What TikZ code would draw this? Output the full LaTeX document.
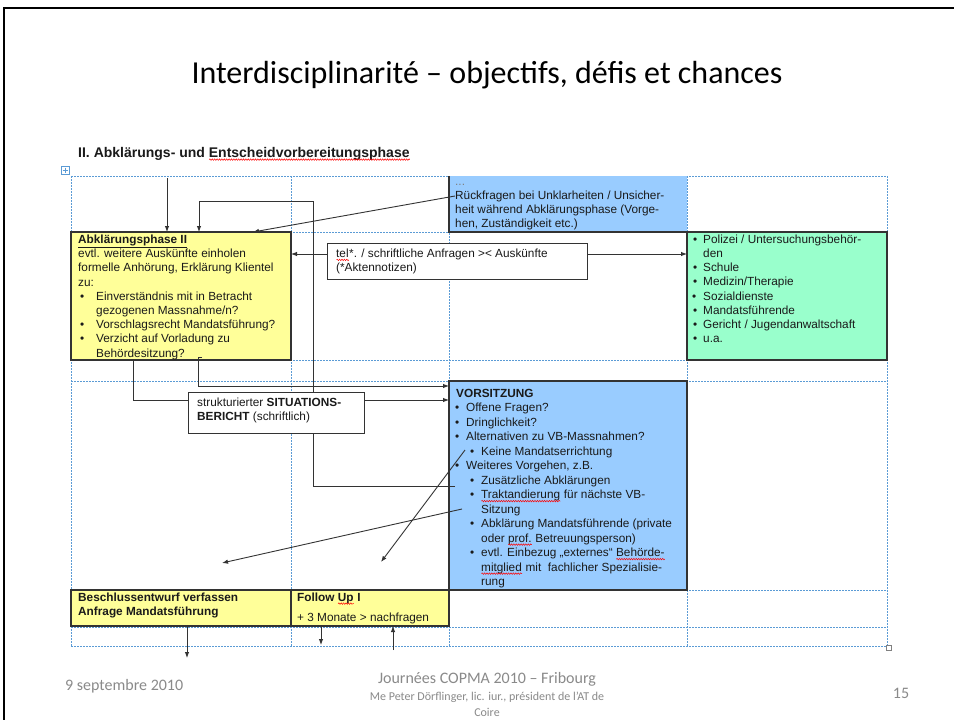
\documentclass[tikz,border=0pt]{standalone}
\usepackage{fontspec}
\setmainfont{Liberation Sans}
\newfontfamily\calibri{Carlito}
\usetikzlibrary{arrows.meta,decorations.pathmorphing}
\newsavebox\rwbox
\newcommand{\redwave}[1]{\sbox\rwbox{#1}\rlap{\usebox\rwbox}\raisebox{-2.6pt}{\tikz[baseline=0pt]\draw[red,line width=0.5pt,decorate,decoration={snake,amplitude=0.75pt,segment length=2.4pt}] (0pt,0pt) -- (\wd\rwbox,0pt);}}
\definecolor{ylw}{HTML}{FFFF99}
\definecolor{blu}{HTML}{99CCFF}
\definecolor{grn}{HTML}{99FFCC}
\definecolor{bord}{HTML}{333333}
\definecolor{gridc}{HTML}{5B9BD5}
\definecolor{txtc}{HTML}{1A1A1A}
\definecolor{footc}{HTML}{8A8A8A}
\tikzset{
  gridline/.style={gridc, line width=0.6pt, dash pattern=on 1.5pt off 1.5pt},
  boxnode/.style={anchor=north west, inner sep=0pt, outer sep=0pt, draw=bord, line width=1.1pt},
  boxedge/.style={bord, line width=1.1pt},
  txt/.style={anchor=base west, inner sep=0pt, text=txtc, font=\fontsize{11.8}{14}\selectfont},
  btxt/.style={txt, font=\bfseries\fontsize{11.8}{14}\selectfont},
  conn/.style={bord, line width=0.9pt},
  arr/.style={conn, -{Latex[length=6pt,width=4.5pt]}},
  foot/.style={inner sep=0pt, text=footc},
}
\begin{document}
\begin{tikzpicture}[x=1pt,y=-1pt]
\useasboundingbox (0,0) rectangle (954,720);
\fill[white] (0,0) rectangle (954,720);
% slide frame
\draw[black, line width=2.2pt] (4,730) -- (4,8) -- (960,8);
% title
\node[inner sep=0pt, font=\calibri\fontsize{32}{36}\selectfont] (title) at (487,75) {Interdisciplinarité – objectifs, défis et chances};
% heading
\node[txt, font=\bfseries\fontsize{14}{16}\selectfont] (head) at (78,157) {II. Abklärungs- und \redwave{Entscheidvorbereitungsphase}};
% table move icon
\draw[gridc, line width=0.5pt] (61,166) rectangle (69,174);
\draw[gridc, line width=0.6pt] (62.5,170) -- (67.5,170) (65,167.5) -- (65,172.5);
% grid
\foreach \gx in {71,291,449,687,887} \draw[gridline] (\gx,176) -- (\gx,646);
\foreach \gy in {176,232,360,381,590,627,646} \draw[gridline] (71,\gy) -- (887,\gy);
\draw[gray, fill=white, line width=0.5pt] (886,645) rectangle (891,650);
% boxes
\node[boxnode, fill=blu, draw=none, minimum width=238pt, minimum height=56pt] (rueck) at (449,176) {};
\draw[boxedge] (rueck.north west) -- (rueck.south west) -- (rueck.south east);
\node[boxnode, fill=ylw, minimum width=220pt, minimum height=128pt] (abk) at (71,232) {};
\node[boxnode, fill=grn, minimum width=200pt, minimum height=128pt] (gruen) at (687,232) {};
\node[boxnode, fill=blu, minimum width=238pt, minimum height=209pt] (vors) at (449,381) {};
\node[boxnode, fill=ylw, minimum width=220pt, minimum height=36pt] (besch) at (71,590) {};
\node[boxnode, fill=ylw, minimum width=158pt, minimum height=36pt] (follow) at (291,590) {};
% texts: Rueckfragen
\node[txt, text=gray] (r0) at (455,185) {...};
\node[txt] (r1) at (455,199.3) {Rückfragen bei Unklarheiten / Unsicher-};
\node[txt] (r2) at (455,213.5) {heit während Abklärungsphase (Vorge-};
\node[txt] (r3) at (455,227.7) {hen, Zuständigkeit etc.)};
% Abklaerungsphase II
\node[btxt] (a1) at (78,243.5) {\underline{Abklärungsphase II}};
\node[txt] (a2) at (78,257.7) {evtl. weitere Auskünfte einholen};
\node[txt] (a3) at (78,271.9) {formelle Anhörung, Erklärung Klientel};
\node[txt] (a4) at (78,286.1) {zu:};
\node[txt] (ab1) at (80,300.3) {•};
\node[txt] (a5) at (96,300.3) {Einverständnis mit in Betracht};
\node[txt] (a6) at (96,314.5) {gezogenen Massnahme/n?};
\node[txt] (ab2) at (80,328.7) {•};
\node[txt] (a7) at (96,328.7) {Vorschlagsrecht Mandatsführung?};
\node[txt] (ab3) at (80,342.9) {•};
\node[txt] (a8) at (96,342.9) {Verzicht auf Vorladung zu};
\node[txt] (a9) at (96,357.1) {Behördesitzung?};
% green box
\node[txt] (gb1) at (693,243.3) {•};
\node[txt] (g1) at (703,243.3) {Polizei / Untersuchungsbehör-};
\node[txt] (g1b) at (703,257.5) {den};
\node[txt] (gb2) at (693,271.7) {•};
\node[txt] (g2) at (703,271.7) {Schule};
\node[txt] (gb3) at (693,285.9) {•};
\node[txt] (g3) at (703,285.9) {Medizin/Therapie};
\node[txt] (gb4) at (692,300.1) {•};
\node[txt] (g4) at (703,300.1) {Sozialdienste};
\node[txt] (gb5) at (693,314.3) {•};
\node[txt] (g5) at (703,314.3) {Mandatsführende};
\node[txt] (gb6) at (693,328.5) {•};
\node[txt] (g6) at (703,328.5) {Gericht / Jugendanwaltschaft};
\node[txt] (gb7) at (693,342.7) {•};
\node[txt] (g7) at (703,342.7) {u.a.};
% VORSITZUNG
\node[btxt] (v0) at (456,397) {VORSITZUNG};
\node[txt] (vb1) at (455,411.5) {•};
\node[txt] (v1) at (466,411.5) {Offene Fragen?};
\node[txt] (vb2) at (455,426) {•};
\node[txt] (v2) at (466,426) {Dringlichkeit?};
\node[txt] (vb3) at (455,440.5) {•};
\node[txt] (v3) at (466,440.5) {Alternativen zu VB-Massnahmen?};
\node[txt] (vb4) at (470,455) {•};
\node[txt] (v4) at (481,455) {Keine Mandatserrichtung};
\node[txt] (vb5) at (455,469.5) {•};
\node[txt] (v5) at (466,469.5) {Weiteres Vorgehen, z.B.};
\node[txt] (vb6) at (470,484) {•};
\node[txt] (v6) at (481,484) {Zusätzliche Abklärungen};
\node[txt] (vb7) at (470,498.5) {•};
\node[txt] (v7) at (481,498.5) {\redwave{Traktandierung} für nächste VB-};
\node[txt] (v8) at (481,513) {Sitzung};
\node[txt] (vb9) at (470,527.5) {•};
\node[txt] (v9) at (481,527.5) {Abklärung Mandatsführende (private};
\node[txt] (v10) at (481,542) {oder \redwave{prof.} Betreuungsperson)};
\node[txt] (vb11) at (470,556.5) {•};
\node[txt] (v11) at (481,556.5) {evtl. Einbezug „externes“ \redwave{Behörde-}};
\node[txt] (v12) at (481,571) {\redwave{mitglied} mit\ \ fachlicher Spezialisie-};
\node[txt] (v13) at (481,585.5) {rung};
% bottom boxes texts
\node[btxt] (bs1) at (78,601) {Beschlussentwurf verfassen};
\node[btxt] (bs2) at (78,615) {Anfrage Mandatsführung};
\node[btxt] (f1) at (297,601) {Follow \redwave{Up} I};
\node[txt] (f2) at (297,621.5) {+ 3 Monate > nachfragen};
% connector coordinates
\coordinate (topA) at (167,178);
\coordinate (bStart) at (455,486);
\coordinate (bUp) at (313,201);
\coordinate (bLeft) at (199,201);
\coordinate (rStart) at (455,196);
\coordinate (rEnd) at (253,232);
\coordinate (eStart) at (133,360);
\coordinate (eEnd) at (449,400);
\coordinate (fTick) at (202,357);
\coordinate (fStart) at (198,357);
\coordinate (fEnd) at (449,386);
\coordinate (gStart) at (465,450);
\coordinate (gEnd) at (381,562);
\coordinate (hStart) at (462,509);
\coordinate (hEnd) at (222,563);
\coordinate (iEnd) at (187,658);
\coordinate (jEnd) at (321,645);
\coordinate (kStart) at (393,650);
% connectors
\draw[arr] (topA) -- (topA |- abk.north);
\draw[arr] (bStart) -| (bUp) -- (bLeft) -- (bLeft |- abk.north);
\draw[arr] (rStart) -- (rEnd);
\draw[arr] (eStart) |- (eEnd);
\draw[arr] (fTick) -- (fStart) |- (fEnd);
\draw[arr] (gStart) -- (gEnd);
\draw[arr] (hStart) -- (hEnd);
\draw[arr] (besch.south -| iEnd) -- (iEnd);
\draw[arr] (follow.south -| jEnd) -- (jEnd);
\draw[arr] (kStart) -- (kStart |- follow.south);
% white label boxes on top
\node[boxnode, fill=white, line width=1pt, minimum width=260pt, minimum height=36pt] (tel) at (327,243) {};
\node[boxnode, fill=white, line width=1pt, minimum width=176pt, minimum height=41pt] (situ) at (188,392) {};
\coordinate (telL) at (327,254);
\coordinate (telR) at (587,254);
\draw[arr] (telL) -- (telL -| abk.east);
\draw[arr] (telR) -- (telR -| gruen.west);
\node[txt] (t1) at (336,257.3) {\redwave{tel}*. / schriftliche Anfragen >< Auskünfte};
\node[txt] (t2) at (336,271.7) {(*Aktennotizen)};
\node[txt] (s1) at (197,406.7) {strukturierter \textbf{SITUATIONS-}};
\node[txt] (s2) at (197,420.7) {\textbf{BERICHT} (schriftlich)};
% footer
\node[foot, anchor=base west, font=\calibri\fontsize{16}{19}\selectfont] (date) at (65,690) {9 septembre 2010};
\node[foot, font=\calibri\fontsize{16}{19}\selectfont] (jour) at (487,679) {Journées COPMA 2010 – Fribourg};
\node[foot, font=\calibri\fontsize{12}{14}\selectfont] (auth) at (487,697) {Me Peter Dörflinger, lic. iur., président de l’AT de};
\node[foot, font=\calibri\fontsize{12}{14}\selectfont] (coire) at (487,712) {Coire};
\node[foot, font=\calibri\fontsize{16}{19}\selectfont] (pnum) at (901,693) {15};
\end{tikzpicture}
\end{document}
